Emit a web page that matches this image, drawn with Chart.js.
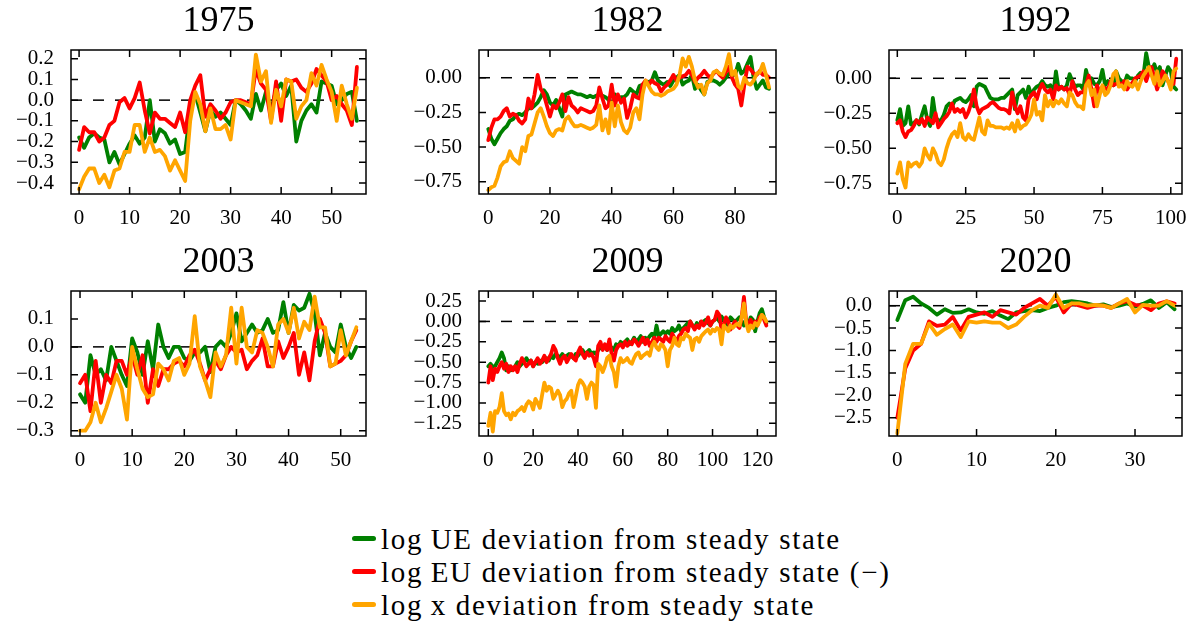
<!DOCTYPE html>
<html>
<head>
<meta charset="utf-8">
<script src="https://cdn.jsdelivr.net/npm/chart.js@4.4.1/dist/chart.umd.min.js"></script>
<style>
  html, body { margin: 0; padding: 0; background: #fff; overflow: hidden; }
  body { width: 1192px; height: 627px; position: relative; }
  canvas.panel { position: absolute; }
  #legend {
    position: absolute; left: 352px; top: 523px; width: 539px; overflow: hidden;
    font-family: "Liberation Serif", serif; font-size: 29px; line-height: 33px;
    letter-spacing: 1.7px; white-space: nowrap; color: #000;
  }
  #legend .row { position: relative; height: 33px; padding-left: 29px; }
  #legend .swatch { position: absolute; left: 0; top: 13px; width: 24px; height: 5px; border-radius: 3px; }
</style>
</head>
<body>
<div id="legend"></div>
<script>
// ---- data: deviation from steady state, one value per quarter of each episode ----
const titles = ['1975', '1982', '1992', '2003', '2009', '2020'];
const seriesNames = [
  'log\u2009UE deviation from steady state',
  'log\u2009EU deviation from steady state (\u2212)',
  'log\u2009x deviation from steady state'
];

const ue1975 = [-0.18,-0.23,-0.18,-0.16,-0.18,-0.19,-0.30,-0.25,-0.31,-0.26,-0.21,-0.17,-0.21,-0.18,0.00,-0.20,-0.14,-0.16,-0.21,-0.19,-0.26,-0.25,-0.05,0.03,-0.06,-0.15,-0.05,-0.08,-0.06,-0.09,-0.12,0.00,-0.02,-0.05,-0.09,0.03,-0.05,0.04,-0.05,0.05,0.08,0.02,0.07,-0.20,-0.10,-0.05,-0.02,-0.06,0.09,0.08,0.07,-0.02,0.00,0.03,0.04,-0.10];
const eu1975 = [-0.24,-0.13,-0.155,-0.155,-0.20,-0.18,-0.12,-0.10,-0.01,0.01,-0.04,0.01,0.085,-0.05,-0.16,-0.06,-0.09,-0.09,-0.11,-0.13,-0.06,-0.155,0.00,0.07,0.12,-0.08,-0.02,-0.05,-0.09,-0.06,-0.01,0.00,0.00,-0.01,-0.02,0.15,0.08,0.05,-0.10,0.09,-0.10,0.10,0.09,0.10,0.06,0.04,0.08,0.15,0.12,0.09,0.00,0.02,-0.02,-0.05,-0.12,0.16];
const x1975 = [-0.43,-0.37,-0.33,-0.33,-0.40,-0.36,-0.42,-0.34,-0.33,-0.25,-0.25,-0.12,-0.12,-0.25,-0.18,-0.25,-0.24,-0.27,-0.34,-0.29,-0.34,-0.39,-0.10,0.04,-0.02,-0.15,-0.04,-0.14,-0.14,-0.12,-0.19,0.00,-0.01,-0.02,-0.03,0.22,0.09,0.14,-0.11,0.05,-0.03,0.10,0.09,-0.09,-0.03,0.00,0.13,0.07,0.17,0.10,0.04,-0.10,0.07,-0.02,-0.09,0.06];

const ue1982 = [-0.37,-0.44,-0.48,-0.44,-0.40,-0.37,-0.35,-0.31,-0.30,-0.27,-0.26,-0.27,-0.25,-0.22,-0.22,-0.20,-0.18,-0.14,-0.09,-0.12,-0.18,-0.20,-0.16,-0.22,-0.28,-0.12,-0.11,-0.10,-0.11,-0.12,-0.12,-0.13,-0.14,-0.13,-0.14,-0.13,-0.12,-0.13,-0.14,-0.16,-0.20,-0.12,-0.15,-0.14,-0.14,-0.12,-0.08,-0.10,-0.12,-0.06,-0.05,-0.04,-0.03,-0.02,0.04,-0.02,-0.04,-0.05,-0.03,-0.06,-0.02,0.00,0.02,-0.05,-0.03,-0.02,0.02,-0.08,-0.05,-0.09,-0.12,-0.03,-0.02,-0.02,-0.03,-0.05,-0.03,0.00,0.03,0.02,0.02,0.10,0.03,0.05,0.10,0.15,0.00,-0.08,-0.05,-0.02,-0.07,-0.08];
const eu1982 = [-0.45,-0.36,-0.30,-0.30,-0.28,-0.24,-0.22,-0.28,-0.26,-0.27,-0.31,-0.33,-0.30,-0.15,-0.22,-0.12,0.02,-0.08,-0.12,-0.20,-0.28,-0.20,-0.22,-0.18,-0.12,-0.24,-0.14,-0.20,-0.22,-0.25,-0.22,-0.23,-0.24,-0.25,-0.24,-0.20,-0.07,-0.15,-0.22,-0.20,-0.05,-0.20,-0.12,-0.18,-0.15,-0.29,-0.22,-0.12,-0.14,-0.15,-0.05,-0.02,-0.05,-0.02,-0.04,-0.05,-0.10,-0.07,-0.05,-0.02,0.02,-0.02,0.00,0.01,0.02,0.05,0.02,-0.03,0.00,0.02,0.05,0.02,0.00,0.03,0.05,0.02,0.00,0.04,0.08,0.00,-0.05,-0.08,-0.20,-0.05,0.08,0.06,0.03,0.02,0.05,0.02,0.02,0.00];
const x1982 = [-0.81,-0.79,-0.78,-0.72,-0.64,-0.61,-0.60,-0.53,-0.58,-0.60,-0.62,-0.50,-0.53,-0.42,-0.41,-0.33,-0.25,-0.22,-0.28,-0.35,-0.40,-0.42,-0.38,-0.37,-0.38,-0.30,-0.28,-0.32,-0.35,-0.35,-0.34,-0.35,-0.36,-0.37,-0.36,-0.34,-0.20,-0.38,-0.30,-0.40,-0.18,-0.35,-0.20,-0.32,-0.38,-0.40,-0.36,-0.25,-0.22,-0.30,-0.12,-0.02,-0.06,-0.10,-0.12,-0.12,-0.13,-0.12,-0.10,-0.09,-0.08,-0.05,0.02,0.14,0.08,0.15,0.08,-0.02,-0.07,-0.05,-0.12,-0.04,-0.02,0.04,0.05,0.03,0.02,0.08,0.17,0.02,0.05,-0.06,-0.08,0.00,-0.04,-0.05,-0.02,0.03,0.04,0.10,0.02,-0.07];

const ue1992 = [-0.30,-0.22,-0.34,-0.32,-0.20,-0.33,-0.32,-0.30,-0.33,-0.26,-0.20,-0.30,-0.34,-0.14,-0.28,-0.30,-0.30,-0.26,-0.20,-0.18,-0.20,-0.16,-0.15,-0.14,-0.16,-0.17,-0.15,-0.12,-0.20,-0.06,-0.04,-0.05,-0.06,-0.10,-0.14,-0.15,-0.15,-0.15,-0.14,-0.14,-0.12,-0.10,-0.08,-0.22,-0.12,-0.10,-0.08,-0.14,-0.06,-0.12,-0.08,-0.06,-0.05,-0.02,-0.05,-0.06,-0.05,-0.12,0.05,-0.08,-0.06,-0.08,-0.05,0.03,-0.02,-0.06,-0.05,-0.05,-0.08,0.06,-0.02,0.00,-0.04,-0.05,-0.02,0.06,-0.05,-0.02,-0.04,-0.05,0.05,0.00,-0.02,-0.04,0.02,0.00,0.00,-0.02,0.02,0.04,0.02,0.18,0.08,0.05,0.10,0.04,0.08,-0.05,0.02,0.08,0.05,-0.06,-0.08];
const eu1992 = [-0.32,-0.30,-0.38,-0.42,-0.38,-0.37,-0.34,-0.30,-0.32,-0.29,-0.34,-0.28,-0.30,-0.32,-0.25,-0.35,-0.32,-0.29,-0.27,-0.24,-0.18,-0.24,-0.22,-0.24,-0.22,-0.28,-0.24,-0.18,-0.08,-0.20,-0.25,-0.22,-0.21,-0.20,-0.18,-0.17,-0.19,-0.21,-0.22,-0.22,-0.23,-0.25,-0.10,-0.20,-0.25,-0.20,-0.28,-0.30,-0.15,-0.12,-0.10,-0.15,-0.08,-0.04,-0.08,-0.10,-0.08,-0.15,-0.05,-0.08,-0.06,-0.08,-0.07,-0.12,-0.02,-0.08,-0.12,-0.10,-0.10,-0.05,0.02,-0.08,-0.20,-0.05,-0.10,-0.06,-0.07,-0.08,-0.02,-0.05,-0.04,-0.03,-0.05,-0.02,-0.08,-0.05,-0.03,0.00,0.01,0.02,0.05,-0.02,0.04,0.08,0.00,-0.08,-0.02,0.05,0.02,-0.02,-0.05,-0.04,0.14];
const x1992 = [-0.68,-0.60,-0.72,-0.78,-0.60,-0.63,-0.61,-0.60,-0.63,-0.60,-0.50,-0.55,-0.58,-0.50,-0.54,-0.60,-0.62,-0.58,-0.50,-0.44,-0.40,-0.38,-0.42,-0.32,-0.42,-0.44,-0.40,-0.43,-0.44,-0.36,-0.28,-0.38,-0.40,-0.30,-0.34,-0.34,-0.35,-0.35,-0.35,-0.36,-0.35,-0.36,-0.32,-0.38,-0.30,-0.36,-0.34,-0.33,-0.30,-0.26,-0.15,-0.26,-0.24,-0.30,-0.12,-0.20,-0.16,-0.20,-0.16,-0.18,-0.15,-0.18,-0.20,-0.10,-0.12,-0.17,-0.20,-0.20,-0.22,-0.05,-0.02,-0.12,-0.08,-0.20,-0.12,-0.05,-0.12,-0.10,-0.05,0.03,0.05,-0.06,-0.05,-0.08,-0.02,-0.05,-0.06,-0.02,-0.08,-0.02,0.02,0.05,0.08,0.02,-0.04,0.05,-0.05,-0.02,0.02,-0.02,-0.08,0.05,0.07];

const ue2003 = [-0.17,-0.20,-0.03,-0.10,-0.08,-0.12,0.00,-0.05,-0.10,-0.14,0.03,-0.02,-0.10,0.02,-0.08,0.08,0.00,-0.04,0.00,0.00,-0.04,-0.05,-0.02,-0.02,0.00,-0.09,0.00,0.02,0.00,0.05,0.12,0.02,0.05,0.08,0.05,0.06,0.10,0.05,0.06,0.16,0.05,0.15,0.13,0.14,0.19,0.12,-0.03,0.05,0.00,-0.02,0.08,0.00,-0.04,0.00];
const eu2003 = [-0.13,-0.10,-0.23,-0.05,-0.20,-0.10,-0.13,-0.05,-0.05,-0.10,-0.03,-0.10,-0.03,-0.20,-0.08,-0.14,-0.08,-0.08,-0.06,-0.05,-0.07,-0.03,-0.01,-0.06,-0.12,-0.08,-0.05,-0.08,-0.03,0.00,-0.02,-0.01,-0.08,-0.05,-0.03,0.03,-0.07,-0.07,0.02,-0.04,0.00,0.05,-0.10,-0.02,-0.12,0.02,0.10,0.05,-0.07,-0.06,-0.05,-0.03,0.02,0.06];
const x2003 = [-0.30,-0.30,-0.27,-0.20,-0.27,-0.22,-0.16,-0.10,-0.15,-0.26,0.00,-0.08,-0.15,-0.18,-0.17,-0.06,-0.08,-0.12,-0.05,-0.04,-0.10,-0.06,0.11,-0.07,-0.12,-0.18,-0.02,-0.07,-0.03,0.14,-0.06,0.14,0.00,-0.02,0.06,0.05,0.00,-0.07,0.08,0.10,0.05,0.14,0.03,0.09,0.06,0.18,0.07,0.07,-0.07,-0.06,0.06,-0.03,0.02,0.07];

const ue2009 = [-0.55,-0.52,-0.56,-0.55,-0.50,-0.45,-0.38,-0.45,-0.60,-0.55,-0.60,-0.58,-0.55,-0.50,-0.55,-0.52,-0.50,-0.45,-0.50,-0.48,-0.55,-0.50,-0.52,-0.48,-0.50,-0.47,-0.45,-0.48,-0.42,-0.45,-0.40,-0.42,-0.44,-0.40,-0.45,-0.42,-0.40,-0.42,-0.45,-0.40,-0.42,-0.38,-0.35,-0.40,-0.38,-0.35,-0.40,-0.38,-0.40,-0.35,-0.32,-0.33,-0.30,-0.35,-0.30,-0.32,-0.35,-0.28,-0.30,-0.25,-0.28,-0.25,-0.22,-0.28,-0.25,-0.20,-0.25,-0.22,-0.18,-0.25,-0.20,-0.22,-0.18,-0.15,-0.20,-0.05,-0.18,-0.15,-0.12,-0.15,-0.12,-0.15,-0.08,-0.12,-0.10,-0.05,-0.12,-0.08,-0.05,-0.02,0.00,-0.05,-0.08,-0.02,-0.05,-0.02,0.00,0.02,-0.02,-0.05,0.00,0.02,0.05,0.00,0.06,0.02,-0.05,0.00,0.05,0.02,0.00,0.02,0.05,0.00,-0.05,0.02,-0.05,0.05,0.02,-0.12,0.00,0.10,0.15,0.05,-0.02];
const eu2009 = [-0.75,-0.55,-0.72,-0.58,-0.62,-0.55,-0.50,-0.58,-0.52,-0.62,-0.55,-0.60,-0.55,-0.62,-0.52,-0.45,-0.50,-0.55,-0.52,-0.48,-0.55,-0.50,-0.45,-0.52,-0.48,-0.42,-0.50,-0.45,-0.40,-0.30,-0.35,-0.45,-0.52,-0.45,-0.42,-0.50,-0.45,-0.40,-0.45,-0.48,-0.38,-0.32,-0.40,-0.45,-0.38,-0.42,-0.40,-0.45,-0.55,-0.30,-0.25,-0.35,-0.28,-0.35,-0.22,-0.40,-0.48,-0.35,-0.30,-0.28,-0.32,-0.25,-0.30,-0.25,-0.28,-0.22,-0.25,-0.30,-0.25,-0.20,-0.28,-0.22,-0.30,-0.25,-0.20,-0.25,-0.20,-0.22,-0.25,-0.18,-0.22,-0.25,-0.15,-0.20,-0.25,-0.18,-0.15,-0.10,-0.08,-0.12,0.00,-0.05,-0.10,-0.05,-0.08,0.00,-0.05,-0.02,0.05,-0.05,0.00,0.02,0.12,0.08,-0.10,-0.05,0.05,0.00,-0.10,-0.05,0.00,-0.05,-0.08,0.05,0.30,0.00,-0.05,0.02,-0.05,0.00,-0.05,0.05,0.08,0.02,-0.05];
const x2009 = [-1.28,-1.12,-1.35,-1.10,-1.12,-1.05,-0.88,-1.10,-1.15,-1.13,-1.20,-1.12,-1.15,-1.10,-1.08,-1.05,-1.10,-1.02,-0.98,-1.00,-1.08,-0.95,-1.00,-1.06,-0.90,-0.75,-0.85,-0.80,-0.82,-0.95,-0.90,-0.85,-0.90,-1.05,-0.98,-0.95,-0.88,-0.85,-1.05,-0.92,-0.78,-0.72,-0.75,-0.80,-0.95,-0.80,-0.75,-0.78,-1.06,-0.52,-0.55,-0.62,-0.55,-0.45,-0.42,-0.55,-0.62,-0.80,-0.55,-0.45,-0.50,-0.48,-0.45,-0.50,-0.52,-0.45,-0.40,-0.38,-0.45,-0.42,-0.40,-0.38,-0.42,-0.30,-0.25,-0.32,-0.35,-0.28,-0.30,-0.35,-0.55,-0.35,-0.30,-0.20,-0.28,-0.30,-0.20,-0.22,-0.15,-0.18,-0.20,-0.35,-0.22,-0.20,-0.25,-0.18,-0.15,-0.12,-0.10,-0.15,-0.10,-0.12,-0.08,-0.10,-0.28,-0.05,-0.08,-0.12,-0.05,-0.08,-0.05,-0.03,-0.05,0.05,0.22,-0.02,-0.12,-0.05,-0.08,-0.02,-0.05,0.00,0.08,0.05,0.00];

const ue2020 = [-0.32,0.12,0.20,0.05,-0.05,-0.20,-0.08,-0.16,-0.15,-0.08,-0.15,-0.18,-0.12,-0.22,-0.30,-0.15,-0.12,-0.10,-0.12,-0.05,0.00,0.08,0.10,0.08,0.05,0.00,0.03,-0.03,0.00,0.05,-0.02,0.04,0.12,-0.05,0.08,-0.08];
const eu2020 = [-2.50,-1.40,-1.00,-0.85,-0.35,-0.45,-0.42,-0.25,-0.55,-0.25,-0.20,-0.15,-0.25,-0.10,-0.15,-0.20,-0.05,0.05,0.15,0.00,0.20,-0.15,0.05,0.00,-0.05,0.00,0.00,-0.05,0.05,0.10,0.02,0.00,-0.10,0.05,0.10,0.05];
const x2020 = [-2.85,-1.30,-0.85,-0.85,-0.40,-0.65,-0.52,-0.42,-0.70,-0.35,-0.38,-0.35,-0.38,-0.38,-0.50,-0.42,-0.25,-0.10,0.00,-0.05,0.25,-0.05,0.05,0.05,0.00,0.02,0.00,-0.05,0.05,0.15,-0.15,0.02,0.00,0.00,0.10,0.00];

// tick values of each panel
const xTicks1975 = [0, 10, 20, 30, 40, 50];
const yTicks1975 = [-0.4, -0.3, -0.2, -0.1, 0, 0.1, 0.2];
const xTicks1982 = [0, 20, 40, 60, 80];
const yTicks1982 = [-0.75, -0.5, -0.25, 0];
const xTicks1992 = [0, 25, 50, 75, 100];
const yTicks1992 = [-0.75, -0.5, -0.25, 0];
const xTicks2003 = [0, 10, 20, 30, 40, 50];
const yTicks2003 = [-0.3, -0.2, -0.1, 0, 0.1];
const xTicks2009 = [0, 20, 40, 60, 80, 100, 120];
const yTicks2009 = [-1.25, -1, -0.75, -0.5, -0.25, 0, 0.25];
const xTicks2020 = [0, 10, 20, 30];
const yTicks2020 = [-2.5, -2, -1.5, -1, -0.5, 0];

// ---- layout and style ----
const SERIF = '"Liberation Serif", "Times New Roman", serif';
const colors = ['#008000', '#ff0000', '#ffa500'];
const WY = 80, HX = 45, PR = 25, HT = 51;   // y-axis width, x-axis height, right pad, title block
const cols = [[71, 366], [479, 776], [889, 1182]];
const rows = [[50, 194], [291, 436]];

const panels = [
  { ue: ue1975, eu: eu1975, lx: x1975, xt: xTicks1975, yt: yTicks1975, dec: 1, x: [-1.6, 56.8],  y: [-0.453, 0.242] },
  { ue: ue1982, eu: eu1982, lx: x1982, xt: xTicks1982, yt: yTicks1982, dec: 2, x: [-3.0, 93.25], y: [-0.8385, 0.2] },
  { ue: ue1992, eu: eu1992, lx: x1992, xt: xTicks1992, yt: yTicks1992, dec: 2, x: [-3.04, 104.1], y: [-0.826, 0.202] },
  { ue: ue2003, eu: eu2003, lx: x2003, xt: xTicks2003, yt: yTicks2003, dec: 1, x: [-1.73, 54.85], y: [-0.319, 0.2] },
  { ue: ue2009, eu: eu2009, lx: x2009, xt: xTicks2009, yt: yTicks2009, dec: 2, x: [-4.15, 128.3], y: [-1.405, 0.373] },
  { ue: ue2020, eu: eu2020, lx: x2020, xt: xTicks2020, yt: yTicks2020, dec: 1, x: [-1.05, 35.93], y: [-2.908, 0.328] }
];

function fmt(v, dec) {
  const s = Math.abs(v) < 1e-9 ? (0).toFixed(dec) : v.toFixed(dec);
  return s.replace('-', '\u2212');
}

function toPoints(arr) {
  return arr.map((v, i) => ({ x: i, y: v }));
}

// dashed zero line under the data, box and inward ticks on top
const framePlugin = {
  id: 'frame',
  beforeDatasetsDraw(chart) {
    const { ctx, chartArea: a, scales: { y } } = chart;
    const y0 = y.getPixelForValue(0);
    ctx.save();
    ctx.strokeStyle = '#000';
    ctx.lineWidth = 1.5;
    ctx.setLineDash([11, 11]);
    ctx.beginPath();
    ctx.moveTo(a.left, y0);
    ctx.lineTo(a.right, y0);
    ctx.stroke();
    ctx.restore();
  },
  afterDatasetsDraw(chart) {
    const { ctx, chartArea: a, scales: { x, y } } = chart;
    const len = 7;
    ctx.save();
    ctx.strokeStyle = '#000';
    ctx.lineWidth = 1.5;
    ctx.beginPath();
    x.ticks.forEach(t => {
      const px = x.getPixelForValue(t.value);
      ctx.moveTo(px, a.bottom); ctx.lineTo(px, a.bottom - len);
      ctx.moveTo(px, a.top); ctx.lineTo(px, a.top + len);
    });
    y.ticks.forEach(t => {
      const py = y.getPixelForValue(t.value);
      ctx.moveTo(a.left, py); ctx.lineTo(a.left + len, py);
      ctx.moveTo(a.right, py); ctx.lineTo(a.right - len, py);
    });
    ctx.stroke();
    ctx.strokeRect(a.left, a.top, a.right - a.left, a.bottom - a.top);
    ctx.restore();
  }
};

panels.forEach((p, i) => {
  const [L, R] = cols[i % 3];
  const [T, B] = rows[Math.floor(i / 3)];
  const canvas = document.createElement('canvas');
  canvas.className = 'panel';
  canvas.width = R - L + WY + PR;
  canvas.height = B - T + HT + HX;
  canvas.style.left = (L - WY) + 'px';
  canvas.style.top = (T - HT) + 'px';
  document.body.appendChild(canvas);

  const lists = [p.ue, p.eu, p.lx];
  new Chart(canvas, {
    type: 'line',
    data: {
      datasets: lists.map((arr, k) => ({
        label: seriesNames[k],
        data: toPoints(arr),
        borderColor: colors[k],
        backgroundColor: colors[k],
        order: 3 - k
      }))
    },
    options: {
      responsive: false,
      animation: false,
      layout: { padding: { left: 0, right: PR, top: 0, bottom: 0 } },
      elements: {
        point: { radius: 0 },
        line: { borderWidth: 3.8, tension: 0, borderJoinStyle: 'round', borderCapStyle: 'round' }
      },
      plugins: {
        legend: { display: false },
        tooltip: { enabled: false },
        title: {
          display: true, text: titles[i], fullSize: false, color: '#000',
          font: { family: SERIF, size: 36, weight: 'normal', lineHeight: 1.25 },
          padding: { top: 0, bottom: 6 }
        }
      },
      scales: {
        x: {
          type: 'linear', min: p.x[0], max: p.x[1],
          grid: { display: false, drawTicks: false },
          border: { display: false },
          afterBuildTicks: s => { s.ticks = p.xt.map(v => ({ value: v })); },
          afterFit: s => { s.height = HX; },
          ticks: {
            autoSkip: false, maxRotation: 0, padding: 12, color: '#000',
            font: { family: SERIF, size: 21 },
            callback: v => fmt(v, 0)
          }
        },
        y: {
          type: 'linear', min: p.y[0], max: p.y[1],
          grid: { display: false, drawTicks: false },
          border: { display: false },
          afterBuildTicks: s => { s.ticks = p.yt.map(v => ({ value: v })); },
          afterFit: s => { s.width = WY; },
          ticks: {
            autoSkip: false, padding: 17, color: '#000',
            font: { family: SERIF, size: 21 },
            callback: v => fmt(v, p.dec)
          }
        }
      }
    },
    plugins: [framePlugin]
  });
});

// legend below the panels
const legend = document.getElementById('legend');
seriesNames.forEach((name, k) => {
  const row = document.createElement('div');
  row.className = 'row';
  const sw = document.createElement('span');
  sw.className = 'swatch';
  sw.style.background = colors[k];
  row.appendChild(sw);
  row.appendChild(document.createTextNode(name));
  legend.appendChild(row);
});
</script>
</body>
</html>
